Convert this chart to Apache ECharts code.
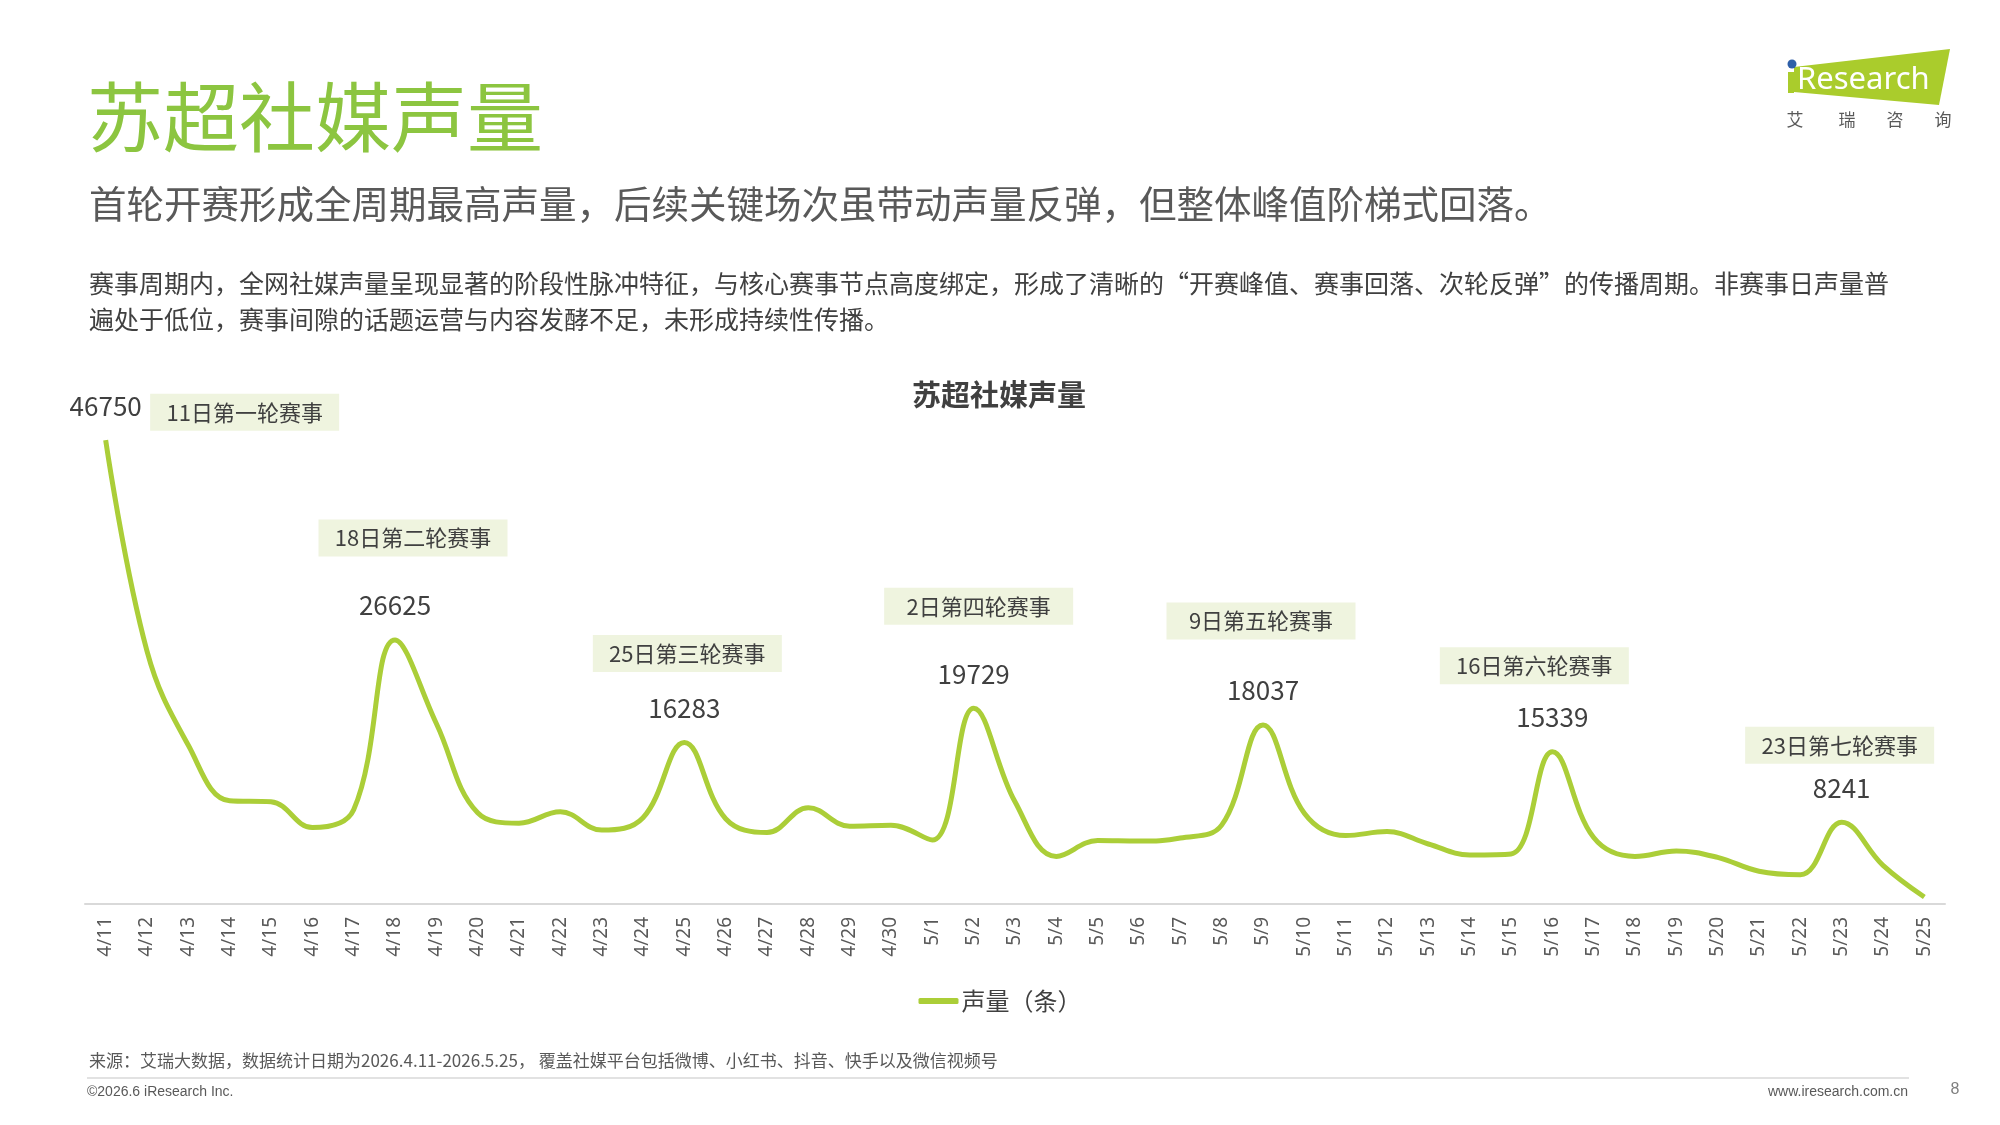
<!DOCTYPE html>
<html>
<head>
<meta charset="utf-8">
<script src="https://cdn.jsdelivr.net/npm/echarts@6/dist/echarts.min.js"></script>
<style>
  html, body { margin: 0; padding: 0; background: #fff; }
  #chart { width: 2000px; height: 1125px; }
</style>
</head>
<body>
<div id="chart"></div>
<script>
// 日期（4/11 - 5/25）
const dates = [
  '4/11', '4/12', '4/13', '4/14', '4/15', '4/16', '4/17', '4/18', '4/19', '4/20',
  '4/21', '4/22', '4/23', '4/24', '4/25', '4/26', '4/27', '4/28', '4/29', '4/30',
  '5/1', '5/2', '5/3', '5/4', '5/5', '5/6', '5/7', '5/8', '5/9', '5/10',
  '5/11', '5/12', '5/13', '5/14', '5/15', '5/16', '5/17', '5/18', '5/19', '5/20',
  '5/21', '5/22', '5/23', '5/24', '5/25'
]
// 声量（条）
const volume = [
  46750, 25500, 16000, 10400, 10300, 7700, 9500, 26625, 18200, 9200,
  8150, 9300, 7450, 8700, 16283, 8600, 7200, 9700, 7850, 7950,
  6450, 19729, 10300, 4800, 6400, 6350, 6650, 7950, 18037, 9150,
  6900, 7300, 6050, 4950, 5050, 15339, 6700, 4800, 5350, 4700,
  3300, 2950, 8241, 3900, 700
]
// 赛事节点
const eventIdx = [0, 7, 14, 21, 28, 35, 42]
const eventNames = ['11日第一轮赛事', '18日第二轮赛事', '25日第三轮赛事', '2日第四轮赛事', '9日第五轮赛事', '16日第六轮赛事', '23日第七轮赛事']

// 标注框相对峰值点的偏移（布局用）
const boxShift = [[139, -28], [18, -102], [3, -89], [5, -102], [-2, -104], [-18, -86], [-2, -77]]

const GREEN = '#abce38'
const TEXT = '#404040'
const GRAY = '#595959'
const CJK = "'Noto Sans CJK SC', 'Noto Sans', sans-serif"

const chart = echarts.init(document.getElementById('chart'))

const markData = []
eventIdx.forEach((idx, k) => {
  markData.push({
    coord: [idx, volume[idx]],
    value: volume[idx],
    symbol: 'circle',
    symbolSize: 1,
    itemStyle: { color: 'rgba(0,0,0,0)' },
    label: { show: true, position: 'top', distance: 21, formatter: '{c}', fontSize: 26, color: TEXT, fontFamily: CJK }
  })
  markData.push({
    coord: [idx, volume[idx]],
    value: eventNames[k],
    symbol: 'rect',
    symbolSize: [189, 37],
    symbolOffset: boxShift[k],
    itemStyle: { color: '#eff4df' },
    label: { show: true, position: 'inside', formatter: eventNames[k], fontSize: 22, color: TEXT, fontFamily: CJK }
  })
})

const txt = (x, y, text, size, color, extra) => Object.assign({
  type: 'text', x: x, y: y, silent: true,
  style: Object.assign({ text: text, fontSize: size, fill: color, fontFamily: CJK, textVerticalAlign: 'middle' }, extra || {})
})

chart.setOption({
  animation: false,
  textStyle: { fontFamily: CJK },
  grid: { left: 85, right: 55, top: 408, bottom: 221 },
  legend: {
    data: ['声量（条）'],
    left: 'center',
    top: 984,
    icon: 'roundRect',
    itemWidth: 40,
    itemHeight: 6,
    itemGap: 4,
    textStyle: { fontSize: 24, color: TEXT, padding: [0, 0, 0, -2] }
  },
  xAxis: {
    type: 'category',
    data: dates,
    boundaryGap: true,
    axisLine: { lineStyle: { color: '#d9d9d9', width: 2 } },
    axisTick: { show: false },
    axisLabel: { rotate: 90, interval: 0, fontSize: 19, color: GRAY, margin: 13, fontFamily: "'Noto Sans', sans-serif" }
  },
  yAxis: {
    type: 'value',
    min: 0,
    max: 50000,
    show: false,
    splitLine: { show: false }
  },
  series: [{
    name: '声量（条）',
    type: 'line',
    data: volume,
    smooth: 0.4,
    showSymbol: false,
    lineStyle: { color: GREEN, width: 5 },
    itemStyle: { color: GREEN },
    markPoint: { data: markData, animation: false }
  }],
  graphic: [
    txt(87, 117, '苏超社媒声量', 76, '#8cc540'),
    txt(89, 204, '首轮开赛形成全周期最高声量，后续关键场次虽带动声量反弹，但整体峰值阶梯式回落。', 37.5, GRAY),
    txt(89, 283, '赛事周期内，全网社媒声量呈现显著的阶段性脉冲特征，与核心赛事节点高度绑定，形成了清晰的“开赛峰值、赛事回落、次轮反弹”的传播周期。非赛事日声量普', 25, TEXT),
    txt(89, 319, '遍处于低位，赛事间隙的话题运营与内容发酵不足，未形成持续性传播。', 25, TEXT),
    txt(999, 395, '苏超社媒声量', 29, TEXT, { textAlign: 'center', fontWeight: 'bold' }),
    // 页脚
    txt(89, 1061, '来源：艾瑞大数据，数据统计日期为2026.4.11-2026.5.25， 覆盖社媒平台包括微博、小红书、抖音、快手以及微信视频号', 17, GRAY),
    { type: 'line', silent: true, shape: { x1: 87, y1: 1078, x2: 1909, y2: 1078 }, style: { stroke: '#d9d9d9', lineWidth: 1.5 } },
    txt(87, 1092, '©2026.6 iResearch Inc.', 14, GRAY, { fontFamily: "'Liberation Sans', Arial, sans-serif" }),
    txt(1908, 1092, 'www.iresearch.com.cn', 14, GRAY, { textAlign: 'right', fontFamily: "'Liberation Sans', Arial, sans-serif" }),
    txt(1955, 1090, '8', 16, '#7f7f7f', { textAlign: 'center', fontFamily: "'Liberation Sans', Arial, sans-serif" }),
    // logo
    { type: 'polygon', silent: true, shape: { points: [[1794, 67], [1950, 49], [1939, 105], [1794, 92]] }, style: { fill: '#aacc2c' } },
    { type: 'rect', silent: true, shape: { x: 1788, y: 72, width: 6, height: 21 }, style: { fill: '#aacc2c' } },
    { type: 'circle', silent: true, shape: { cx: 1792, cy: 64, r: 4.5 }, style: { fill: '#2e5fa8' } },
    txt(1797, 80, 'Research', 31, '#ffffff', { fontFamily: "'Noto Sans', sans-serif" }),
    txt(1795, 120, '艾', 17, GRAY, { textAlign: 'center' }),
    txt(1847, 120, '瑞', 17, GRAY, { textAlign: 'center' }),
    txt(1895, 120, '咨', 17, GRAY, { textAlign: 'center' }),
    txt(1943, 120, '询', 17, GRAY, { textAlign: 'center' })
  ]
})
</script>
</body>
</html>
